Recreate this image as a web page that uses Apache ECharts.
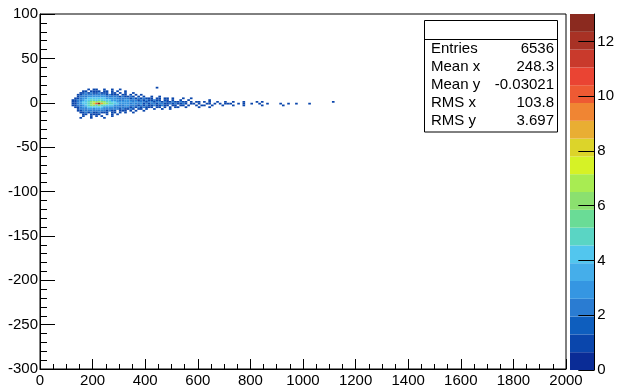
<!DOCTYPE html>
<html><head><meta charset="utf-8">
<script src="https://cdn.jsdelivr.net/npm/echarts@6/dist/echarts.min.js"></script>
<style>html,body{margin:0;padding:0;background:#fff}#c{width:617px;height:388px}</style>
</head><body><div id="c"></div>
<script>
// ---- data (bin contents) ----
var binX0 = 120, binW = 10, binH = 2;
var rowYLow = [16,14,12,10,8,6,4,2,0,-2,-4,-6,-8,-10,-12,-14,-16,-18];
// one string per y-bin row, one char per x-bin ('.' = empty, hex digit = count)
var rows = [
  ".......... .......... .......... ..1",
  "......1.11 ..1..1..1.",
  "....11.111 1.11.1.1.. 1",
  "...1121211 2111.11.1. 1..1",
  "..11222222 22212111.1 1.1.1.1",
  "..12223333 3332222212 1121.1.1.. 1..1",
  ".112334444 4443333222 2212121211 1.11.11.1. ..1..1",
  "1122344554 5544433322 3322212121 1211.11.1. .1..1..... ..1",
  "1123445676 7665544333 3332322212 2122121121 1211.1.11. 1.1..1..1. .1...1.... 1.1....... .......... .........1",
  "112344568a d976554433 3323223121 2212211212 1121.11.1. .11.1.1.11 1..1.1..1. .1..1....1 ..1..1.... 1.........",
  "1122345665 6554443322 3322212121 1211211.11 .11.1..1.1 1..1...1.. .1...1.... ..1....... 1",
  ".112334444 4433332222 2212121211 1.11.1.1.1 1..1....1. ..1",
  "..12223323 3322222212 1121.11.1. .1..1..1",
  "..11222222 2221211.11 1.1.1..1",
  "...1121211 2111.11.1. 1..1",
  "....11.111 1..1.1.1",
  "....1..1.1 .1...1",
  "...1...1.. ..1"
];
var zMax = 13;
var palette = ['#0a2c96','#0a46ac','#0e5ebe','#2a7cd2','#3596e2','#45aeea','#52c6ee','#5ad5c4','#6adc96','#8be06f',
               '#a8ec52','#d6f226','#dcd42a','#e9ae33','#f08533','#ee5a33','#ea4433','#c93a2c','#a83225','#8b2a1f'];
var cbTicks = [0,2,4,6,8,10,12];
var statsLabels = ['Entries','Mean x','Mean y','RMS x','RMS y'];
var statsValues = ['6536','248.3','-0.03021','103.8','3.697'];

// ---- build ----
var cells = [];
rows.forEach(function(r, j){
  var s = r.replace(/ /g,'');
  for (var i = 0; i < s.length; i++) {
    var ch = s[i];
    if (ch === '.') continue;
    cells.push([binX0 + i*binW, rowYLow[j], parseInt(ch,16)]);
  }
});
function colorOf(v){
  var k = Math.floor(v / zMax * palette.length);
  if (k > palette.length-1) k = palette.length-1;
  if (k < 0) k = 0;
  return palette[k];
}
var font = 'Liberation Sans, Arial, Helvetica, sans-serif';
var black = {color:'#000', width:1};
var plain = function(v){ return String(v); };
var graphics = [
  {type:'rect', z:100, shape:{x:424.5, y:20.5, width:133, height:111.5}, style:{fill:'#fff', stroke:'#000', lineWidth:1}},
  {type:'line', z:101, shape:{x1:424.5, y1:39.5, x2:557.5, y2:39.5}, style:{stroke:'#000', lineWidth:1}}
];
statsLabels.forEach(function(t, i){
  var yc = 48.5 + i*18.2;
  graphics.push({type:'text', z:101, x:431, y:yc, style:{text:t, fill:'#000', font:'15px ' + font, textAlign:'left', textVerticalAlign:'middle'}});
  graphics.push({type:'text', z:101, x:554, y:yc, style:{text:statsValues[i], fill:'#000', font:'15px ' + font, textAlign:'right', textVerticalAlign:'middle'}});
});

var chart = echarts.init(document.getElementById('c'), null, {renderer:'canvas'});
chart.setOption({
  animation:false,
  backgroundColor:'#fff',
  grid:[
    {left:40, top:14, width:526, height:356, show:true, borderColor:'#000', borderWidth:1, backgroundColor:'rgba(0,0,0,0)'},
    {left:570, top:14, width:30, height:356}
  ],
  xAxis:[
    {gridIndex:0, type:'value', min:0, max:2000, interval:200,
     axisLine:{show:true, onZero:false, lineStyle:black},
     axisTick:{show:true, inside:true, length:10, lineStyle:black},
     minorTick:{show:true, splitNumber:4, length:5, lineStyle:black},
     splitLine:{show:false}, minorSplitLine:{show:false},
     axisLabel:{color:'#000', fontSize:15, fontFamily:font, margin:4, formatter:plain}},
    {gridIndex:1, type:'value', min:0, max:1, show:false}
  ],
  yAxis:[
    {gridIndex:0, type:'value', min:-300, max:100, interval:50,
     axisLine:{show:true, onZero:false, lineStyle:black},
     axisTick:{show:true, inside:true, length:15, lineStyle:black},
     minorTick:{show:true, splitNumber:5, length:7, lineStyle:black},
     splitLine:{show:false}, minorSplitLine:{show:false},
     axisLabel:{color:'#000', fontSize:15, fontFamily:font, margin:2, formatter:plain}},
    {gridIndex:1, type:'value', min:0, max:zMax, position:'right', z:5,
     axisLine:{show:true, onZero:false, lineStyle:black},
     axisTick:{show:true, inside:true, length:16, customValues:cbTicks, lineStyle:black},
     axisLabel:{color:'#000', fontSize:15, fontFamily:font, margin:3, customValues:cbTicks, formatter:plain},
     splitLine:{show:false}}
  ],
  series:[
    {type:'custom', xAxisIndex:0, yAxisIndex:0, data:cells, clip:true,
     encode:{x:0, y:1},
     renderItem:function(params, api){
       var x0 = api.value(0), y0 = api.value(1), v = api.value(2);
       var p0 = api.coord([x0, y0 + binH]);
       var p1 = api.coord([x0 + binW, y0]);
       return {type:'rect', shape:{x:p0[0], y:p0[1], width:p1[0]-p0[0], height:p1[1]-p0[1]},
               style:{fill:colorOf(v)}};
     }},
    {type:'custom', xAxisIndex:1, yAxisIndex:1, z:1,
     data:palette.map(function(c, i){ return [0, i]; }),
     encode:{x:0, y:1},
     renderItem:function(params, api){
       var i = api.value(1);
       var lo = i * zMax / palette.length, hi = (i+1) * zMax / palette.length;
       var p0 = api.coord([0, hi]);
       var p1 = api.coord([1, lo]);
       return {type:'rect', shape:{x:p0[0], y:p0[1], width:p1[0]-p0[0], height:p1[1]-p0[1]},
               style:{fill:palette[i]}};
     }}
  ],
  graphic:graphics
});
</script></body></html>
